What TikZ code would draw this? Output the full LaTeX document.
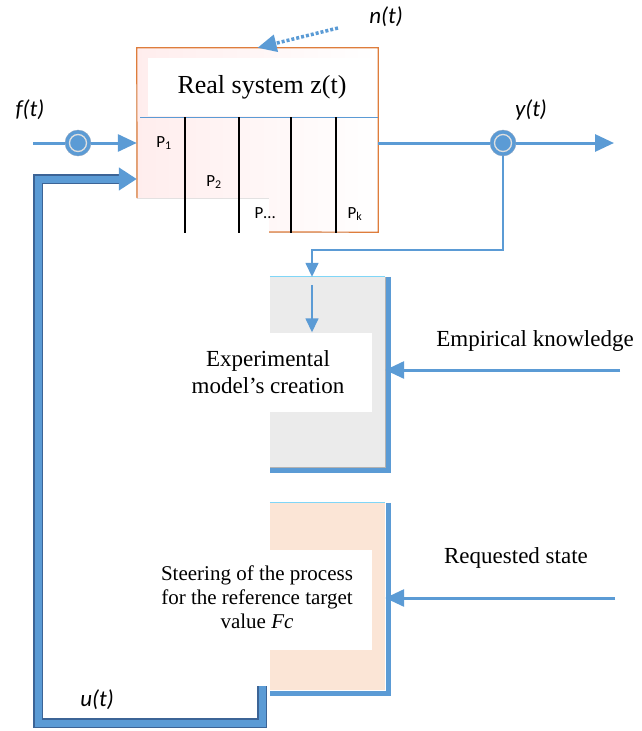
\documentclass[tikz,border=0pt]{standalone}
\usepackage{xcolor}
\usepackage{fontspec}
\setmainfont{Liberation Serif}
\newfontfamily\calfont{Carlito}
\usepackage{tikz}
\usetikzlibrary{positioning,arrows.meta}

\definecolor{lineblue}{RGB}{91,155,213}
\definecolor{darkblue}{RGB}{60,100,150}
\definecolor{boxorange}{RGB}{222,125,60}
\definecolor{peach}{RGB}{251,229,214}
\definecolor{greybox}{RGB}{235,235,235}

\begin{document}
\begin{tikzpicture}[x=1pt, y=-1pt, every node/.style={inner sep=0pt},
    flow/.style={draw=lineblue, line width=3pt},
    tip/.style={-{Triangle[length=19pt,width=17pt]}},
    smalltip/.style={-{Triangle[length=14pt,width=13pt]}},
    sumdot/.style={circle, fill=lineblue, draw=darkblue!60, minimum size=26pt,
        path picture={\draw[gray!25, line width=1.3pt] (path picture bounding box.center) circle (8.5pt);}},
    sig/.style={font=\calfont\itshape\fontsize{23}{26}\selectfont},
    plabel/.style={font=\calfont\fontsize{17}{20}\selectfont},
    txt/.style={font=\fontsize{23}{27}\selectfont, align=center}]
    \useasboundingbox (0,0) rectangle (642,731);

    % Real system box
    \node[minimum width=241pt, minimum height=184pt] (sys) at (257.5,140) {};
    \fill[left color=red!7, right color=white] (sys.north west) -- (sys.north east) -- (sys.south east)
        -- (269,232) -- (269,198) -- (137,198) -- cycle;
    \draw[boxorange, line width=1.2pt] (137,198) -- (sys.north west) -- (sys.north east) -- (sys.south east) -- (269,232);
    \node[fill=white, minimum width=229pt, minimum height=58pt, txt, font=\fontsize{26}{29}\selectfont] (title) at (262,87) {Real system z(t)};
    \draw[lineblue, line width=1pt] (140,117) -- (sys.east |- 0,117);

    % Parameters
    \foreach \px in {185,239,291,336}
        \draw[black, line width=2.5pt] (\px,117) -- (\px,233);
    \node[plabel] (p1) at (164,143) {P\textsubscript{1}};
    \node[plabel] (p2) at (214,182) {P\textsubscript{2}};
    \node[plabel] (p3) at (265,213) {P\ldots};
    \node[plabel] (pk) at (355,214) {P\textsubscript{k}};

    % Noise
    \node[sig] (nt) at (386,17) {n(t)};
    \coordinate (nstart) at (338,28);
    \draw[flow, dotted, line width=3.5pt, tip] (nstart) -- (sys.north);

    % Input
    \node[sig] (ft) at (30,110) {f(t)};
    \coordinate (fin) at (33,143);
    \node[sumdot] (sumin) at (78,143) {};
    \draw[flow] (fin) -- (sumin);
    \draw[flow, tip] (sumin) -- (sys.west |- sumin);

    % Output
    \node[sig] (yt) at (531,110) {y(t)};
    \node[sumdot] (sumout) at (503,143) {};
    \coordinate (yend) at (614,143);
    \draw[flow] (sys.east |- sumout) -- (sumout);
    \draw[flow, tip] (sumout) -- (yend);

    % Experimental model
    \node[fill=greybox, minimum width=115pt, minimum height=190pt] (model) at (327.5,372) {};
    \draw[gray!60, line width=1pt] (model.north east) -- (model.south east) -- (model.south west);
    \draw[lineblue, line width=5pt] ([xshift=3pt]model.north east) -- ([xshift=3pt,yshift=-3pt]model.south east) -- ([yshift=-3pt]model.south west);
    \draw[cyan!50, line width=1pt] (model.north west) -- (model.north east);
    \node[fill=white, minimum width=208pt, minimum height=79pt, txt] (modeltext) at (268,372) {Experimental\\model’s creation};
    \coordinate (bend) at (312,250);
    \draw[lineblue, line width=1.5pt, smalltip] (sumout) |- (bend) -- (model.north -| bend);
    \draw[lineblue, line width=1.5pt, smalltip] ([yshift=-8pt]model.north -| bend) -- (modeltext.north -| bend);

    \node[txt] (emp) at (535,341) {Empirical knowledge};
    \coordinate (empin) at (620,370);
    \draw[flow, tip] (empin) -- (model.east |- empin);

    % Steering
    \node[fill=peach, minimum width=115pt, minimum height=187pt] (steer) at (327.5,596.5) {};
    \draw[lineblue, line width=5pt] ([xshift=3pt]steer.north east) -- ([xshift=3pt,yshift=-3pt]steer.south east) -- ([yshift=-3pt]steer.south west);
    \draw[cyan!50, line width=1pt] (steer.north west) -- (steer.north east);
    \node[fill=white, minimum width=212pt, minimum height=100pt, txt, font=\fontsize{21}{24}\selectfont] (steertext) at (266,600) {};
    \node[txt, font=\fontsize{21}{24}\selectfont] (steerlbl) at (257,597)
        {Steering of the process\\for the reference target\\value \textit{Fc}};

    \node[txt] (req) at (516,558) {Requested state};
    \coordinate (reqin) at (615,598);
    \draw[flow, tip] (reqin) -- (steer.east |- reqin);

    % Control u(t)
    \coordinate (ustart) at (262,686);
    \draw[darkblue, line width=10pt, line join=miter] (ustart) -- (262,723) -- (38,723) -- (38,179) -- (124,179);
    \draw[lineblue, line width=7pt, line join=miter, -{Triangle[length=18pt,width=22pt]}] (ustart) -- (262,723) -- (38,723) -- (38,179) -- (sys.west |- 0,179);
    \node[sig] (ut) at (97,700) {u(t)};
\end{tikzpicture}
\end{document}
